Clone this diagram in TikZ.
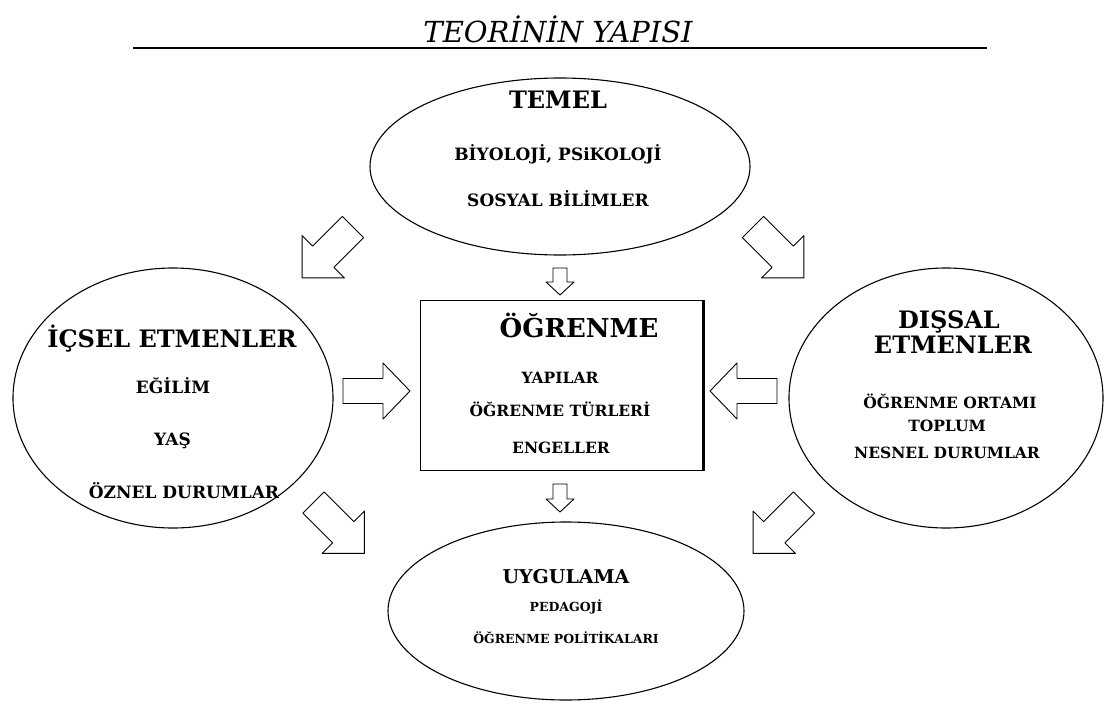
\documentclass[tikz,border=0pt]{standalone}
\usepackage{fontspec}
\setmainfont{DejaVu Serif}
\usetikzlibrary{shapes.geometric}

\tikzset{
  bubble/.style={draw, ellipse, line width=1.1pt, inner sep=0pt},
  headtext/.style={font=\fontsize{24}{26}\selectfont\bfseries, anchor=base, inner sep=0pt},
  itemtext/.style={font=\fontsize{17}{19}\selectfont\bfseries, anchor=base, inner sep=0pt},
  boxtext/.style={font=\fontsize{15.5}{17}\selectfont\bfseries, anchor=base, inner sep=0pt},
  smalltext/.style={font=\fontsize{12.5}{14}\selectfont\bfseries, anchor=base, inner sep=0pt},
  blockline/.style={draw, line width=0.9pt, line join=round, fill=white},
}

% block arrow: tail, angle, shaft length, shaft half width, head half width, head length
\newcommand{\blockarrow}[6]{%
  \draw[blockline, shift={#1}, rotate=#2]
    (0,-#4) -- (#3,-#4) -- (#3,-#5) -- ({#3+#6},0) -- (#3,#5) -- (#3,#4) -- (0,#4) -- cycle;}

\begin{document}
\begin{tikzpicture}[x=1pt, y=-1pt]
	\useasboundingbox (0,0) rectangle (1105,704);

	% title
	\node[font=\fontsize{29}{32}\selectfont\itshape, anchor=base, inner sep=0pt] (title) at (558,42) {TEORİNİN YAPISI};
	\coordinate (ruleL) at (133,48);
	\coordinate (ruleR) at (987,48);
	\draw[line width=1.4pt] (ruleL) -- (ruleR);

	% shapes
	\node[bubble, minimum width=380pt, minimum height=177pt] (temel) at (560,166.5) {};
	\node[bubble, minimum width=320pt, minimum height=260pt] (icsel) at (173,398) {};
	\node[bubble, minimum width=314pt, minimum height=260pt] (dissal) at (946,398) {};
	\node[bubble, minimum width=356pt, minimum height=178pt] (uygulama) at (566,611) {};
	\node[draw, line width=1pt, minimum width=283pt, minimum height=170pt, inner sep=0pt] (ogrenme) at (561.5,385) {};
	\draw[line width=2.2pt] (ogrenme.north east) -- (ogrenme.south east);

	% texts
	\node[headtext] (temelH) at (558,108) {TEMEL};
	\node[itemtext] (temel1) at (558,160) {BİYOLOJİ, PSiKOLOJİ};
	\node[itemtext] (temel2) at (558,206) {SOSYAL BİLİMLER};

	\node[headtext, font=\fontsize{26}{28}\selectfont\bfseries] (ogrenmeH) at (579,337) {ÖĞRENME};
	\node[boxtext] (ogrenme1) at (560,383) {YAPILAR};
	\node[boxtext] (ogrenme2) at (560,416) {ÖĞRENME TÜRLERİ};
	\node[boxtext] (ogrenme3) at (561,453) {ENGELLER};

	\node[headtext] (icselH) at (172,347) {İÇSEL ETMENLER};
	\node[itemtext] (icsel1) at (173,393) {EĞİLİM};
	\node[itemtext] (icsel2) at (172.5,445) {YAŞ};
	\node[itemtext] (icsel3) at (184,498) {ÖZNEL DURUMLAR};

	\node[headtext] (dissalH) at (949,328) {DIŞSAL};
	\node[headtext] (dissalH2) at (953,353) {ETMENLER};
	\node[boxtext] (dissal1) at (950,408) {ÖĞRENME ORTAMI};
	\node[boxtext] (dissal2) at (947,431) {TOPLUM};
	\node[boxtext] (dissal3) at (947,458) {NESNEL DURUMLAR};

	\node[headtext, font=\fontsize{19}{21}\selectfont\bfseries] (uygulamaH) at (566,583) {UYGULAMA};
	\node[smalltext] (uygulama1) at (566,611) {PEDAGOJİ};
	\node[smalltext] (uygulama2) at (566,643) {ÖĞRENME POLİTİKALARI};

	% block arrows
	\coordinate (tl) at (353,227);
	\coordinate (tr) at (753,227);
	\coordinate (bl) at (313.5,502.5);
	\coordinate (br) at (804,502.5);
	\coordinate (ml) at (343,391);
	\coordinate (mr) at (777,391);
	\coordinate (mt) at (560,268);
	\coordinate (mb) at (560,484);
	\blockarrow{(tl)}{225}{42}{15}{30}{30}
	\blockarrow{(tr)}{-45}{42}{15}{30}{30}
	\blockarrow{(bl)}{-45}{42}{15}{30}{30}
	\blockarrow{(br)}{225}{42}{15}{30}{30}
	\blockarrow{(ml)}{0}{40}{12.5}{28}{27}
	\blockarrow{(mr)}{180}{40}{12.5}{28}{27}
	\blockarrow{(mt)}{-90}{14}{7}{14}{13}
	\blockarrow{(mb)}{-90}{15}{7}{14}{13}
\end{tikzpicture}
\end{document}
